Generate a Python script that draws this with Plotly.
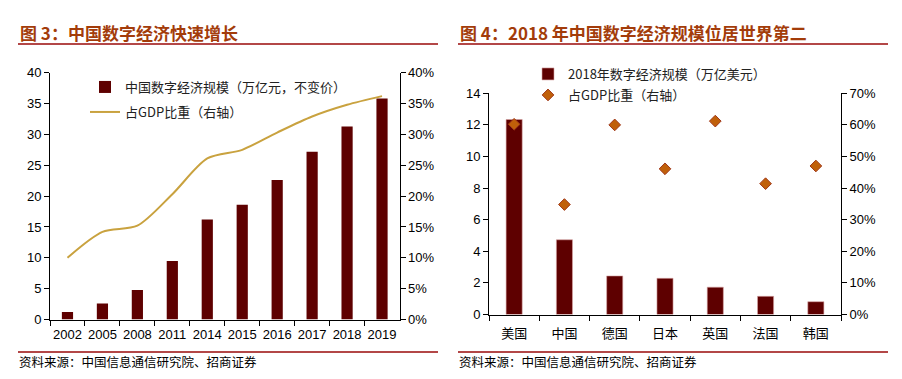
import plotly.graph_objects as go

# page body has an 8px default margin; lay out in reference pixels, shifted by it
OFF = 8
W, H = 902 - 2 * OFF, 379 - 2 * OFF

# ---- data: left chart (图3) ----
years = ["2002", "2005", "2008", "2011", "2014", "2015", "2016", "2017", "2018", "2019"]
cn_scale = [1.2, 2.6, 4.8, 9.5, 16.2, 18.6, 22.6, 27.2, 31.3, 35.8]
cn_gdp_share = [0.100, 0.142, 0.152, 0.203, 0.261, 0.275, 0.303, 0.329, 0.348, 0.362]

# ---- data: right chart (图4) ----
countries = ["美国", "中国", "德国", "日本", "英国", "法国", "韩国"]
scale_2018 = [12.34, 4.73, 2.44, 2.29, 1.73, 1.15, 0.81]
share_2018 = [0.602, 0.348, 0.600, 0.461, 0.612, 0.414, 0.470]

left_title = "图 3：中国数字经济快速增长"
right_title = "图 4：2018 年中国数字经济规模位居世界第二"
source_text = "资料来源：中国信息通信研究院、招商证券"

CJK = "Noto Sans CJK SC"
NUM = "Liberation Sans, Arial"
BAR = "#5E0000"
GOLD = "#C9A23F"
DIAMOND = "#C0600A"
TITLE_C = "#A33C0A"
RULE_C = "#9A0A0A"


def px_x(x):
    return (x - OFF) / W


def px_y(y):
    return 1 - (y - OFF) / H


fig = go.Figure()

fig.add_trace(go.Bar(
    x=years, y=cn_scale, name="中国数字经济规模（万亿元，不变价）",
    marker=dict(color=BAR, line=dict(width=0)), width=0.32,
    xaxis="x", yaxis="y", legend="legend",
))
fig.add_trace(go.Scatter(
    x=years, y=cn_gdp_share, name="占GDP比重（右轴）", mode="lines",
    line=dict(color=GOLD, width=2, shape="spline", smoothing=0.8),
    xaxis="x", yaxis="y2", legend="legend2",
))
fig.add_trace(go.Bar(
    x=countries, y=scale_2018, name="2018年数字经济规模（万亿美元）",
    marker=dict(color=BAR, line=dict(width=0.6, color="#D9A5A5")), width=0.32,
    xaxis="x2", yaxis="y3", legend="legend3",
))
fig.add_trace(go.Scatter(
    x=countries, y=share_2018, name="占GDP比重（右轴）", mode="markers",
    marker=dict(symbol="diamond", size=9, color=DIAMOND, line=dict(width=1, color="#A0381A")),
    xaxis="x2", yaxis="y4", legend="legend4",
))

axis_common = dict(
    showgrid=False, zeroline=False, showline=True, linecolor="black", linewidth=1,
    ticks="outside", ticklen=5, tickcolor="black", fixedrange=True, automargin=False,
)

dom_l_x = [px_x(50), px_x(399.5)]
dom_l_y = [px_y(319.5), px_y(72.7)]
dom_r_x = [px_x(489), px_x(841)]
dom_r_y = [px_y(314.5), px_y(93.3)]

fig.update_layout(
    width=W, height=H, margin=dict(l=0, r=0, t=0, b=0),
    paper_bgcolor="white", plot_bgcolor="white",
    xaxis=dict(domain=dom_l_x, anchor="y", type="category", tickson="boundaries", tickangle=0,
               ticklabelstandoff=3,
               tickfont=dict(family=NUM, size=13, color="black"), **axis_common),
    yaxis=dict(domain=dom_l_y, anchor="x", range=[0, 40], dtick=5,
               tickfont=dict(family=NUM, size=13, color="black"), **axis_common),
    yaxis2=dict(domain=dom_l_y, anchor="x", overlaying="y", side="right",
                range=[0, 0.4], dtick=0.05, tickformat=".0%",
                tickfont=dict(family=NUM, size=13, color="black"), **axis_common),
    xaxis2=dict(domain=dom_r_x, anchor="y3", type="category", tickson="boundaries", tickangle=0,
                ticklabelstandoff=7,
                tickfont=dict(family=CJK, size=13, color="black"), **axis_common),
    yaxis3=dict(domain=dom_r_y, anchor="x2", range=[0, 14], dtick=2,
                tickfont=dict(family=NUM, size=13, color="black"), **axis_common),
    yaxis4=dict(domain=dom_r_y, anchor="x2", overlaying="y3", side="right",
                range=[0, 0.7], dtick=0.1, tickformat=".0%",
                tickfont=dict(family=NUM, size=13, color="black"), **axis_common),
    legend=dict(x=px_x(85), y=px_y(87), xanchor="left", yanchor="middle",
                bgcolor="rgba(0,0,0,0)", font=dict(family=CJK, size=13, color="#222")),
    legend2=dict(x=px_x(85), y=px_y(112), xanchor="left", yanchor="middle",
                 bgcolor="rgba(0,0,0,0)", font=dict(family=CJK, size=13, color="#222")),
    legend3=dict(x=px_x(528), y=px_y(74), xanchor="left", yanchor="middle",
                 bgcolor="rgba(0,0,0,0)", font=dict(family=CJK, size=13, color="#222")),
    legend4=dict(x=px_x(528), y=px_y(95), xanchor="left", yanchor="middle",
                 bgcolor="rgba(0,0,0,0)", font=dict(family=CJK, size=13, color="#222")),
    showlegend=True,
)

annos = []
for x0, txt in [(18, left_title), (458, right_title)]:
    annos.append(dict(x=px_x(x0), y=px_y(32), xref="paper", yref="paper", text=f"<b>{txt}</b>",
                      showarrow=False, xanchor="left", yanchor="middle",
                      font=dict(family=CJK, size=17, color=TITLE_C)))
for x0 in (18, 458):
    annos.append(dict(x=px_x(x0), y=px_y(361), xref="paper", yref="paper", text=source_text,
                      showarrow=False, xanchor="left", yanchor="middle", borderpad=0,
                      font=dict(family=CJK, size=12.5, color="black")))
fig.update_layout(annotations=annos)

shapes = []
for x0, x1 in [(18, 438), (458, 888)]:
    for yy in (44, 352):
        shapes.append(dict(type="line", xref="paper", yref="paper",
                           x0=px_x(x0), x1=px_x(x1), y0=px_y(yy), y1=px_y(yy),
                           line=dict(color=RULE_C, width=1.3)))
fig.update_layout(shapes=shapes)

fig.write_html("out.html")
